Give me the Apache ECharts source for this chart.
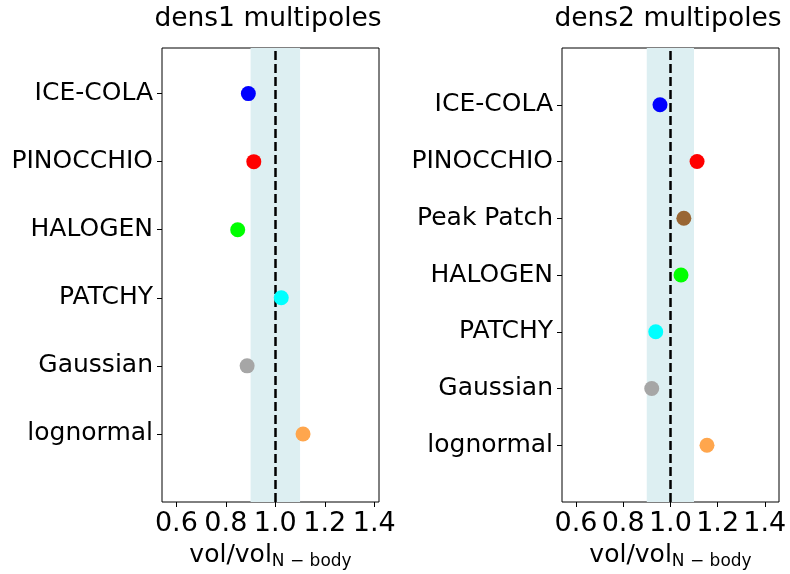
<!DOCTYPE html>
<html><head><meta charset="utf-8">
<script src="https://cdn.jsdelivr.net/npm/echarts@6/dist/echarts.min.js"></script>
<style>html,body{margin:0;padding:0;background:#fff}#c{width:790px;height:574px}</style>
</head><body><div id="c"></div>
<script>
// ---- data ----
const leftTitle = 'dens1 multipoles';
const rightTitle = 'dens2 multipoles';
const leftCategories = ['ICE-COLA','PINOCCHIO','HALOGEN','PATCHY','Gaussian','lognormal'];
const leftValues = [0.891, 0.913, 0.848, 1.024, 0.886, 1.112];
const leftColors = ['#0000ff','#ff0000','#00ff00','#00ffff','#a6a6a6','#ffa64d'];
const rightCategories = ['ICE-COLA','PINOCCHIO','Peak Patch','HALOGEN','PATCHY','Gaussian','lognormal'];
const rightValues = [0.956, 1.113, 1.057, 1.045, 0.938, 0.921, 1.155];
const rightColors = ['#0000ff','#ff0000','#996633','#00ff00','#00ffff','#a6a6a6','#ffa64d'];
const xTicks = [0.6, 0.8, 1.0, 1.2, 1.4];
const bandRange = [0.9, 1.1];
const refValue = 1.0;

const FONT = 'DejaVu Sans';
const chart = echarts.init(document.getElementById('c'), null, {renderer: 'canvas'});

const panels = [
  {cats: leftCategories, vals: leftValues, cols: leftColors, title: leftTitle, titleX: 268,
   grid: {left: 162, right: 411, top: 48, bottom: 72}, xMin: 0.542, xMax: 1.419, yMax: 6.67},
  {cats: rightCategories, vals: rightValues, cols: rightColors, title: rightTitle, titleX: 668,
   grid: {left: 562, right: 11, top: 48, bottom: 72}, xMin: 0.541, xMax: 1.46, yMax: 8}
];

const grids = [], xAxes = [], yAxes = [], series = [], graphics = [];
panels.forEach((p, i) => {
  const n = p.cats.length;
  grids.push(Object.assign({show: true, borderColor: '#000', borderWidth: 1, backgroundColor: 'transparent',
    containLabel: false, outerBoundsMode: 'none'}, p.grid));
  graphics.push({type: 'text', x: p.titleX, y: 6, z: 10,
    style: {text: p.title, x: 0, y: 0, align: 'center', verticalAlign: 'top',
      font: '26.5px "DejaVu Sans"', fill: '#000'}});
  xAxes.push({
    type: 'value', gridIndex: i, min: p.xMin, max: p.xMax,
    splitLine: {show: false},
    axisLine: {show: false},
    axisTick: {show: true, length: 5, lineStyle: {color: '#000', width: 1}, customValues: xTicks},
    axisLabel: {customValues: xTicks, formatter: v => v.toFixed(1), fontFamily: FONT, fontSize: 27, color: '#000', margin: 8, hideOverlap: false},
    name: '{a|vol/vol}{s|N − body}', nameLocation: 'middle', nameGap: 39,
    nameTextStyle: {fontFamily: FONT, fontSize: 25, color: '#000',
      rich: {a: {fontFamily: FONT, fontSize: 25, color: '#000'},
             s: {fontFamily: FONT, fontSize: 17, color: '#000', padding: [12, 0, 0, 0]}}}
  });
  const yVals = p.cats.map((c, k) => n - k);
  yAxes.push({
    type: 'value', gridIndex: i, min: 0, max: p.yMax,
    splitLine: {show: false},
    axisLine: {show: false},
    axisTick: {show: true, length: 5, lineStyle: {color: '#000', width: 1}, customValues: yVals},
    axisLabel: {customValues: yVals, formatter: v => p.cats[n - Math.round(v)] || '',
      fontFamily: FONT, fontSize: 25, color: '#000', margin: 9}
  });
  series.push({
    type: 'line', xAxisIndex: i, yAxisIndex: i, data: [], z: 1, silent: true,
    markArea: {silent: true, itemStyle: {color: '#ddeff2', opacity: 1},
      data: [[{xAxis: bandRange[0]}, {xAxis: bandRange[1]}]]},
    markLine: {silent: true, symbol: ['none','none'], label: {show: false},
      lineStyle: {color: '#000', width: 2.5, type: [9, 4], opacity: 1},
      data: [{xAxis: refValue}], animation: false}
  });
  series.push({
    type: 'scatter', xAxisIndex: i, yAxisIndex: i, z: 5, symbolSize: 15,
    itemStyle: {opacity: 1},
    data: p.vals.map((v, k) => ({value: [v, n - k], itemStyle: {color: p.cols[k], opacity: 1}}))
  });
});

chart.setOption({
  animation: false,
  backgroundColor: '#fff',
  graphic: graphics,
  grid: grids,
  xAxis: xAxes,
  yAxis: yAxes,
  series: series
});
</script></body></html>
